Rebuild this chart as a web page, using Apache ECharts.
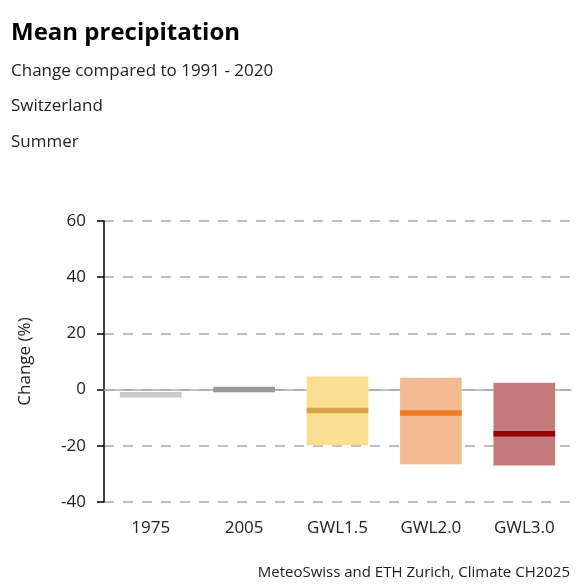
<!DOCTYPE html>
<html>
<head>
<meta charset="utf-8">
<script src="https://cdn.jsdelivr.net/npm/echarts@6/dist/echarts.min.js"></script>
<style>
  html, body { margin: 0; padding: 0; background: #fff; }
  #chart { width: 586px; height: 586px; }
</style>
</head>
<body>
<div id="chart"></div>
<script>
const categories = ['1975', '2005', 'GWL1.5', 'GWL2.0', 'GWL3.0']
const medianValues = [-1.8, 0.0, -7.4, -8.3, -15.7]
const lowValues = [null, null, -19.8, -26.6, -27.0]
const highValues = [null, null, 4.7, 4.2, 2.4]
const yTicks = [-40, -20, 0, 20, 40, 60]

const boxColors = [null, null, '#fadf92', '#f5bb93', '#c57b7e']
const lineColors = ['#cccccc', '#999999', '#d6a348', '#ef7b22', '#990000']

const font = '"Open Sans", "Noto Sans", sans-serif'
const chart = echarts.init(document.getElementById('chart'))

// box from low to high plus a thick median line, drawn through the axes
function renderItem(params, api) {
  const idx = api.value(0)
  const width = api.size([1, 0])[0] * 0.66
  const mid = api.coord([idx, api.value(1)])
  const children = []
  if (api.value(2) !== null && !isNaN(api.value(2))) {
    const top = api.coord([idx, api.value(3)])
    const bottom = api.coord([idx, api.value(2)])
    children.push({
      type: 'rect',
      shape: { x: top[0] - width / 2, y: top[1], width: width, height: bottom[1] - top[1] },
      style: { fill: boxColors[idx] }
    })
  }
  children.push({
    type: 'rect',
    shape: { x: mid[0] - width / 2, y: mid[1] - 2.75, width: width, height: 5.5 },
    style: { fill: lineColors[idx] }
  })
  return { type: 'group', children: children }
}

const subStyle = { fontFamily: font, fontSize: 17, fontWeight: 'normal', color: '#222' }

const option = {
  animation: false,
  title: [
    { text: 'Mean precipitation', left: 11, top: 21, padding: 0, textStyle: { fontFamily: font, fontSize: 24, fontWeight: 'bold', color: '#000' } },
    { text: 'Change compared to 1991 - 2020', left: 11, top: 63, padding: 0, textStyle: subStyle },
    { text: 'Switzerland', left: 11, top: 98, padding: 0, textStyle: subStyle },
    { text: 'Summer', left: 11, top: 134, padding: 0, textStyle: subStyle },
    { text: 'MeteoSwiss and ETH Zurich, Climate CH2025', right: 16, top: 565, padding: 0, textStyle: { fontFamily: font, fontSize: 15, fontWeight: 'normal', color: '#222' } }
  ],
  grid: { left: 104, right: 15, top: 221, bottom: 84 },
  xAxis: {
    type: 'category',
    data: categories,
    axisLine: { onZero: true, lineStyle: { color: '#aaaaaa', width: 1.5 } },
    axisTick: { show: false },
    axisLabel: { fontFamily: font, fontSize: 17, color: '#222', margin: 18, interval: 0 },
    z: 1
  },
  yAxis: {
    type: 'value',
    min: -40,
    max: 60,
    interval: 20,
    name: 'Change (%)',
    nameLocation: 'middle',
    nameGap: 70,
    nameTextStyle: { fontFamily: font, fontSize: 17, color: '#222' },
    axisLine: { show: true, lineStyle: { color: '#000', width: 1.5 } },
    axisTick: { show: true, length: 7, lineStyle: { color: '#000', width: 1.5 } },
    axisLabel: { fontFamily: font, fontSize: 17, color: '#222', margin: 18, formatter: v => yTicks.includes(v) ? String(v) : '' },
    splitLine: { show: true, lineStyle: { color: '#aaaaaa', type: [10, 9], width: 1.5 } }
  },
  series: [{
    type: 'custom',
    renderItem: renderItem,
    encode: { x: 0, y: [1, 2, 3] },
    data: categories.map((c, i) => [i, medianValues[i], lowValues[i], highValues[i]]),
    z: 2
  }]
}
chart.setOption(option)
</script>
</body>
</html>
